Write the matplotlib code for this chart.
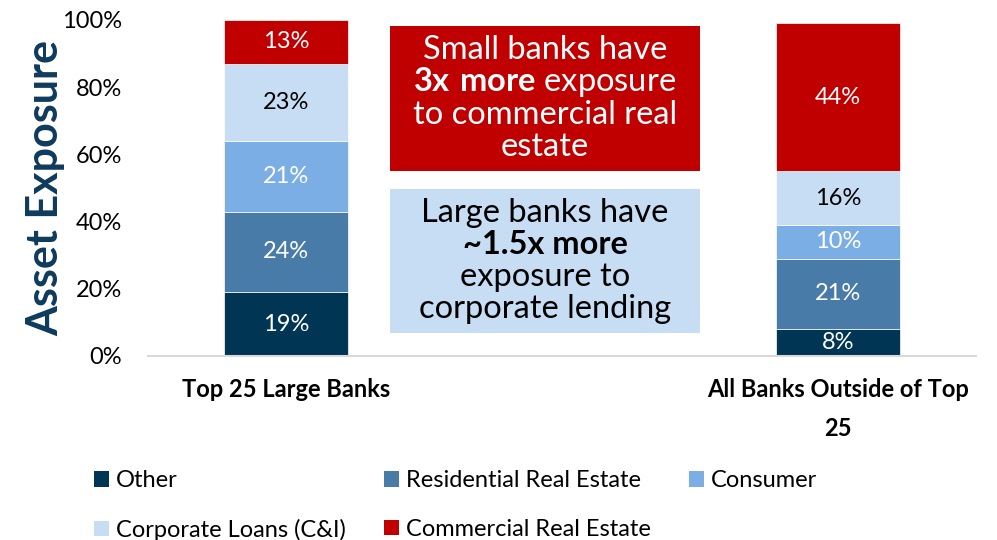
import matplotlib
matplotlib.use("Agg")
import matplotlib.pyplot as plt
from matplotlib.patches import Rectangle, Patch
import numpy as np

plt.rcParams['font.family'] = ['Lato', 'DejaVu Sans']
plt.rcParams['mathtext.fontset'] = 'custom'
plt.rcParams['mathtext.rm'] = 'Lato'
plt.rcParams['mathtext.bf'] = 'Lato:bold'

# Data
categories = ["Top 25 Large Banks", "All Banks Outside of Top\n25"]
segments = ["Other", "Residential Real Estate", "Consumer",
            "Corporate Loans (C&I)", "Commercial Real Estate"]
values = {
    "Other": [19, 8],
    "Residential Real Estate": [24, 21],
    "Consumer": [21, 10],
    "Corporate Loans (C&I)": [23, 16],
    "Commercial Real Estate": [13, 44],
}
yticks = [0, 20, 40, 60, 80, 100]

colors = {
    "Other": "#003554",
    "Residential Real Estate": "#497ba8",
    "Consumer": "#7aaee4",
    "Corporate Loans (C&I)": "#c6ddf4",
    "Commercial Real Estate": "#c00000",
}
label_colors = {
    "Other": "white",
    "Residential Real Estate": "white",
    "Consumer": "white",
    "Corporate Loans (C&I)": "black",
    "Commercial Real Estate": "white",
}

fig = plt.figure(figsize=(9.97, 5.40), dpi=100)
ax = fig.add_axes([148 / 997, 1 - 356 / 540, (976 - 148) / 997, (356 - 20) / 540])

x = np.arange(len(categories))
bottom = np.zeros(len(categories))
for seg in segments:
    v = np.array(values[seg], dtype=float)
    ax.bar(x, v, width=0.226, bottom=bottom, color=colors[seg],
           edgecolor="white", linewidth=0.5, label=seg, zorder=2)
    for xi, vi, bi in zip(x, v, bottom):
        ax.text(xi, bi + vi / 2, f"{int(vi)}%", ha="center", va="center",
                fontsize=17, color=label_colors[seg], zorder=3)
    bottom += v

ax.set_xlim(-0.25, 1.25)
ax.set_ylim(0, 100)
ax.set_yticks(yticks)
ax.set_yticklabels([f"{t}%" for t in yticks], fontsize=17)
ax.set_xticks(x)
ax.set_xticklabels(categories, fontsize=17, fontweight="bold", linespacing=1.85)
ax.tick_params(axis="y", length=0, pad=18.5)
ax.tick_params(axis="x", length=0, pad=16)

for side in ["top", "right", "left"]:
    ax.spines[side].set_visible(False)
ax.spines["bottom"].set_color("#d9d9d9")
ax.spines["bottom"].set_linewidth(1.5)

ax.set_ylabel("Asset Exposure", fontsize=31, fontweight="bold", color="#0e3a5c")
ax.yaxis.set_label_coords(-0.1005, 0.5)

# Callout boxes
def px_to_fig(xp, yp):
    return xp / 997, 1 - yp / 540

def callout(x0, y0, x1, y1, face, lines, color):
    fx0, fy1 = px_to_fig(x0, y1)
    fx1, fy0 = px_to_fig(x1, y0)
    fig.patches.append(Rectangle((fx0, fy1), fx1 - fx0, fy0 - fy1,
                                 transform=fig.transFigure, facecolor=face,
                                 edgecolor="none", zorder=1))
    cx = (fx0 + fx1) / 2
    n = len(lines)
    step = 32 / 540
    cy = (fy0 + fy1) / 2
    for i, (txt, weight) in enumerate(lines):
        yy = cy + ((n - 1) / 2 - i) * step
        fig.text(cx, yy, txt, ha="center", va="center", fontsize=23.5,
                 fontweight=weight, color=color)

callout(390, 26, 700, 171, "#c00000",
        [("Small banks have", "normal"),
         (r"$\mathbf{3x\ more}$ exposure", "normal"),
         ("to commercial real", "normal"),
         ("estate", "normal")], "white")
callout(390, 189, 700, 333, "#c6ddf4",
        [("Large banks have", "normal"),
         ("~1.5x more", "bold"),
         ("exposure to", "normal"),
         ("corporate lending", "normal")], "black")

# Legend
order = ["Other", "Corporate Loans (C&I)", "Residential Real Estate",
         "Commercial Real Estate", "Consumer"]
handles = [Patch(facecolor=colors[s], edgecolor="none") for s in order]
fig.legend(handles, order, ncol=3, loc="upper left",
           bbox_to_anchor=(94 / 997, 1 - 470 / 540), frameon=False,
           borderaxespad=0, borderpad=0,
           fontsize=17, handlelength=0.64, handleheight=0.64,
           handletextpad=0.3, columnspacing=1.6, labelspacing=1.18)

fig.savefig("out.png", dpi=100)
